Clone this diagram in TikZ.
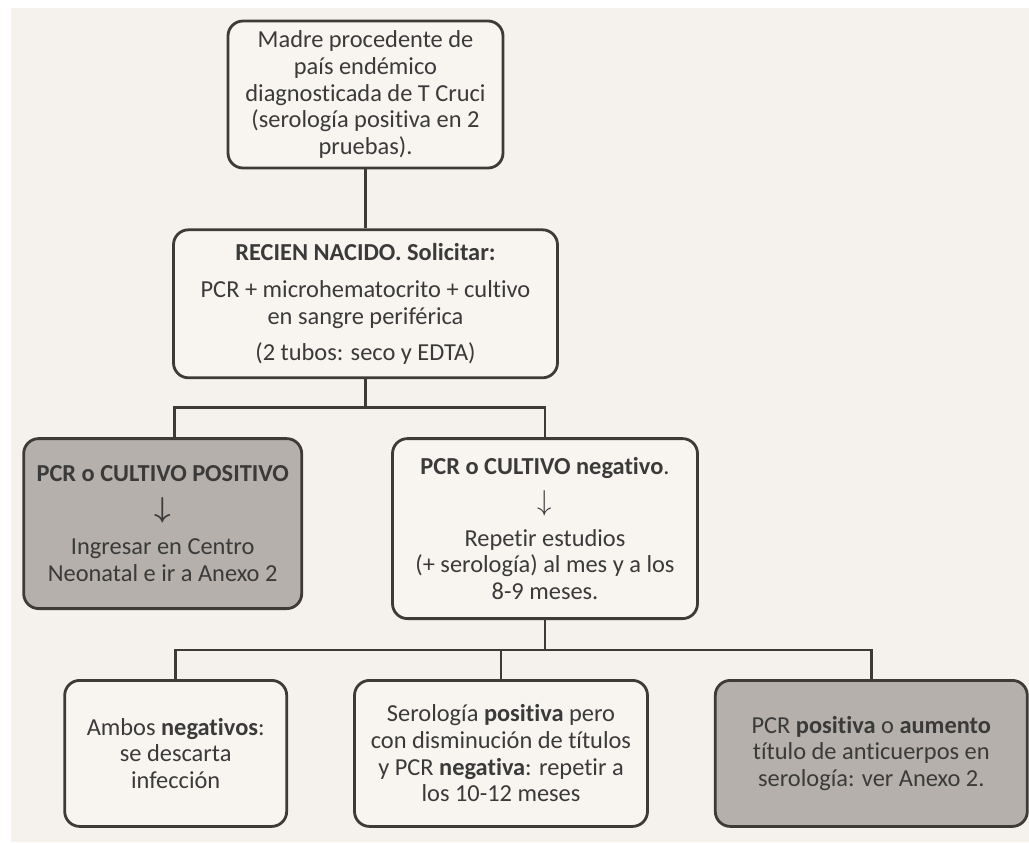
\documentclass[tikz,border=0pt]{standalone}
\usepackage{fontspec}
\setmainfont{Carlito}[Ligatures=NoCommon]
\usepackage{amsmath}
\usepackage{tikz}
\usetikzlibrary{calc,positioning}

\definecolor{pagebg}{HTML}{F5F1EC}
\definecolor{boxwhite}{HTML}{F8F5F1}
\definecolor{boxgray}{HTML}{B5B0AB}
\definecolor{linegray}{HTML}{3D3A37}
\definecolor{textgray}{HTML}{3A3A3A}

\newcommand{\thinarrow}{{\fontsize{15}{15}\selectfont$\downarrow$}}
\newcommand{\boldarrow}{{\fontsize{15}{15}\selectfont$\boldsymbol{\downarrow}$}}

\begin{document}
\begin{tikzpicture}[x=0.5pt, y=-0.5pt,
		box/.style={rectangle, draw=linegray, line width=1.4pt, rounded corners=7.5pt,
				fill=boxwhite, text=textgray, align=center, inner sep=0pt,
				font=\fontsize{12.2}{13.3}\selectfont},
		graybox/.style={box, fill=boxgray},
		link/.style={draw=linegray, line width=1.3pt}]

		% page
		\fill[white] (0,0) rectangle (1029,842);
		\fill[pagebg] (11,8) rectangle (1029,842);
		\useasboundingbox (0,0) rectangle (1029,842);

		\node (madre) [box, minimum width=137.5pt, minimum height=73.5pt] at (365.5,94.5)
		{Madre procedente de\\ país endémico\\ diagnosticada de T Cruci\\ (serología positiva en 2\\ pruebas).};

		\node (rn) [box, minimum width=192pt, minimum height=74pt, below=29.5pt of madre]
		{\textbf{RECIEN NACIDO. Solicitar:}\\[5.5pt]
			PCR + microhematocrito + cultivo\\ en sangre periférica\\[5pt]
			(2 tubos: seco y EDTA)};

		\node (neg) [box, minimum width=152.5pt, minimum height=90pt, below=29pt of rn, xshift=89.75pt]
		{\textbf{PCR o CULTIVO negativo}.\\[4.5pt]
			\thinarrow\\[4.5pt]
			Repetir estudios\\ (+ serología) al mes y a los\\ 8-9 meses.};

		\node (pos) [graybox, minimum width=139pt, minimum height=85pt, left=44pt of neg.north west, anchor=north east]
		{\textbf{PCR o CULTIVO POSITIVO}\\[4.5pt]
			\boldarrow\\[5.5pt]
			Ingresar en Centro\\ Neonatal e ir a Anexo 2};

		\node (mid) [box, minimum width=146.5pt, minimum height=73pt, below=29.5pt of neg, xshift=-22pt]
		{Serología \textbf{positiva} pero\\ con disminución de títulos\\ y PCR \textbf{negativa}: repetir a\\ los 10-12 meses};

		\node (ambos) [box, minimum width=111pt, minimum height=73pt, left=32.5pt of mid]
		{Ambos \textbf{negativos}:\\ se descarta\\ infección};

		\node (anexo) [graybox, minimum width=156pt, minimum height=73pt, right=32.5pt of mid]
		{PCR \textbf{positiva} o \textbf{aumento}\\ título de anticuerpos en\\ serología: ver Anexo 2.};

		% connectors
		\coordinate (fork1) at ($(rn.south)+(0,28)$);
		\coordinate (fork2) at ($(neg.south)+(0,30)$);

		\draw[link] (madre) -- (rn);
		\draw[link] (rn) -- (fork1);
		\draw[link] ([xshift=6pt]pos.north) |- (fork1) -| (neg.north);
		\draw[link] (neg) -- (fork2);
		\draw[link] (ambos.north) |- (fork2) -| (anexo.north);
		\draw[link] (mid) -- (mid |- fork2);
	\end{tikzpicture}
\end{document}
